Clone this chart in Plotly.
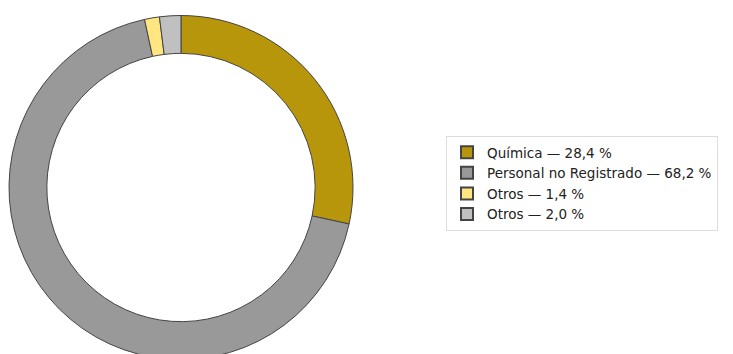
import plotly.graph_objects as go

labels = ["Química — 28,4 %", "Personal no Registrado — 68,2 %", "Otros — 1,4 %", "Otros — 2,0 %"]
values = [28.4, 68.2, 1.4, 2.0]
colors = ["#B8960C", "#999999", "#FFE680", "#C0C0C0"]

W, H = 733, 354
fig = go.Figure(go.Pie(
    labels=labels,
    values=values,
    marker=dict(colors=colors, line=dict(color="#444444", width=1)),
    hole=0.78,
    sort=False,
    direction="clockwise",
    rotation=0,
    textinfo="none",
    hoverinfo="label",
    domain=dict(x=[1 / W, 345 / W], y=[0, 1 - 5 / H]),
))
fig.update_layout(
    width=W, height=H,
    margin=dict(l=0, r=0, t=0, b=0),
    paper_bgcolor="white",
    plot_bgcolor="white",
    font=dict(family="DejaVu Sans", size=13.5, color="#222222"),
    legend=dict(
        x=438 / W, y=1 - 128 / H, xanchor="left", yanchor="top",
        bordercolor="#DDDDDD", borderwidth=1, bgcolor="white",
        font=dict(family="DejaVu Sans", size=13.5, color="#222222"),
        itemsizing="constant",
        tracegroupgap=0,
    ),
    showlegend=True,
)
fig.write_html("out.html")
